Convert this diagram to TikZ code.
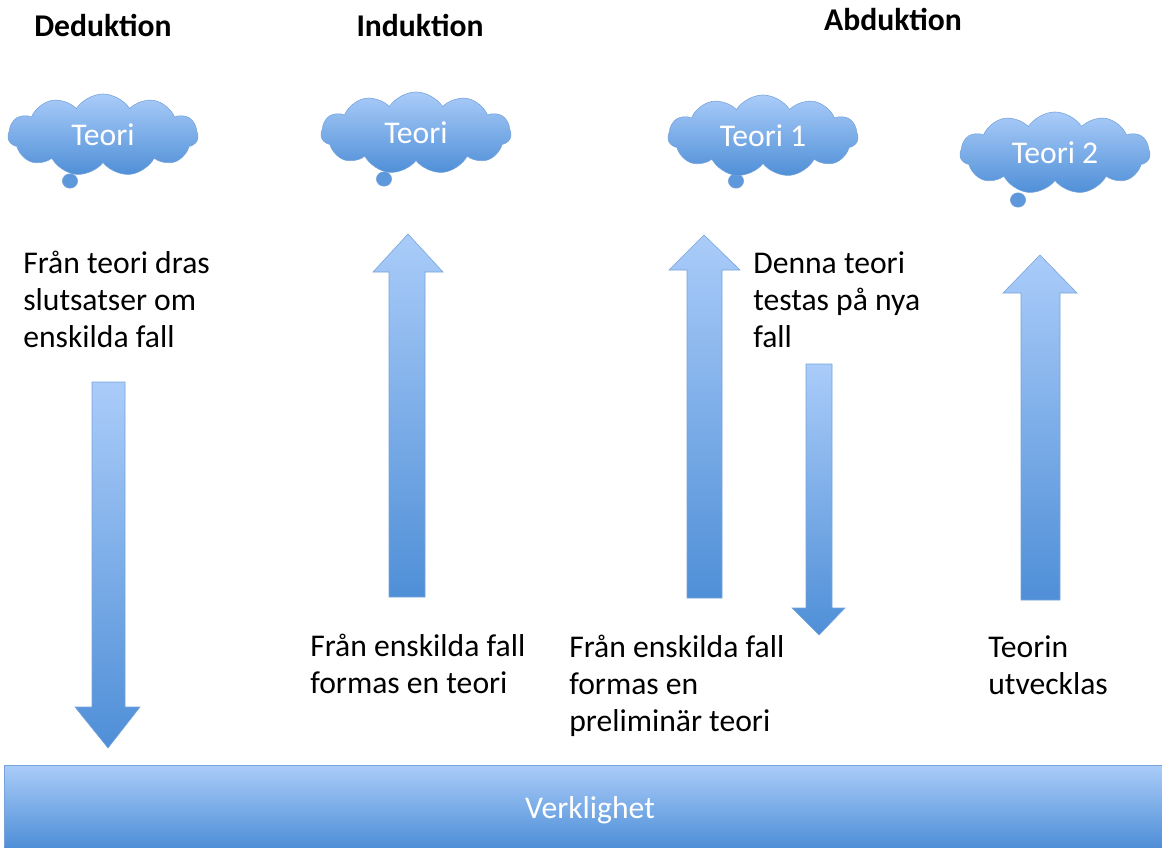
\documentclass[tikz,border=0pt]{standalone}
\usepackage{fontspec}
\setmainfont{Carlito}
\usetikzlibrary{shapes.symbols, shapes.geometric}

\definecolor{skylight}{HTML}{AACCF9}
\definecolor{skydark}{HTML}{4F8FD7}
\definecolor{skyline}{HTML}{76A3DA}

\begin{document}
\begin{tikzpicture}[x=0.025cm,y=-0.025cm,
  font=\fontsize{22.5}{26.2}\selectfont,
  title/.style={font=\fontsize{22.5}{26.2}\selectfont\bfseries, anchor=base},
  txt/.style={anchor=base west, align=left, inner sep=0pt},
  teori/.style={cloud, cloud puffs=11, cloud puff arc=115, aspect=2.4,
    draw=skyline, top color=skylight, bottom color=skydark, text=white,
    minimum width=4.75cm, minimum height=2.05cm, inner sep=0pt},
  tail/.style={ellipse, draw=skyline, fill=skydark!85!skylight,
    minimum width=0.38cm, minimum height=0.36cm, inner sep=0pt},
  blockarrow/.style={draw=skyline, thin, top color=skylight, bottom color=skydark}]

  \useasboundingbox (0,0) rectangle (1162,847);

  % headings
  \node [title] (ded) at (103,37) {Deduktion};
  \node [title] (ind) at (420,37) {Induktion};
  \node [title] (abd) at (893,31) {Abduktion};

  % theory clouds
  \node [tail] (dedtail) at (70,181) {};
  \node [teori] (dedteori) at (103,135) {Teori};
  \node [tail] (indtail) at (384,179) {};
  \node [teori] (indteori) at (416,133) {Teori};
  \node [tail] (abdtail1) at (736,181) {};
  \node [teori] (abdteori1) at (763,136) {Teori 1};
  \node [tail] (abdtail2) at (1018,200) {};
  \node [teori] (abdteori2) at (1055,153) {Teori 2};

  % block arrows
  \path [blockarrow] (92,382) -- (125,382) -- (125,707) -- (140,707)
    -- (108,748) -- (75,707) -- (92,707) -- cycle;
  \path [blockarrow] (389,597) -- (389,272) -- (373,272) -- (408,234)
    -- (443,272) -- (425,272) -- (425,597) -- cycle;
  \path [blockarrow] (687,598) -- (687,270) -- (669,270) -- (704,235)
    -- (740,270) -- (722,270) -- (722,598) -- cycle;
  \path [blockarrow] (806,364) -- (832,364) -- (832,608) -- (845,608)
    -- (819,635) -- (792,608) -- (806,608) -- cycle;
  \path [blockarrow] (1021,600) -- (1021,293) -- (1003,293) -- (1040,255)
    -- (1077,293) -- (1060,293) -- (1060,600) -- cycle;

  % captions (anchored at the last line)
  \node [txt] (dedtext) at (23,347) {Från teori dras\\slutsatser om\\enskilda fall};
  \node [txt] (indtext) at (310,693) {Från enskilda fall\\formas en teori};
  \node [txt] (testtext) at (753,347) {Denna teori\\testas på nya\\fall};
  \node [txt] (preltext) at (569,731) {Från enskilda fall\\formas en\\preliminär teori};
  \node [txt] (utvtext) at (988,694) {Teorin\\utvecklas};

  % reality
  \path [top color=skylight, bottom color=skydark] (4,765) rectangle (1162,847);
  \draw [skyline, thin] (4,847) -- (4,765) -- (1162,765);
  \node [text=white] (verklighet) at (590,810) {Verklighet};
\end{tikzpicture}
\end{document}
